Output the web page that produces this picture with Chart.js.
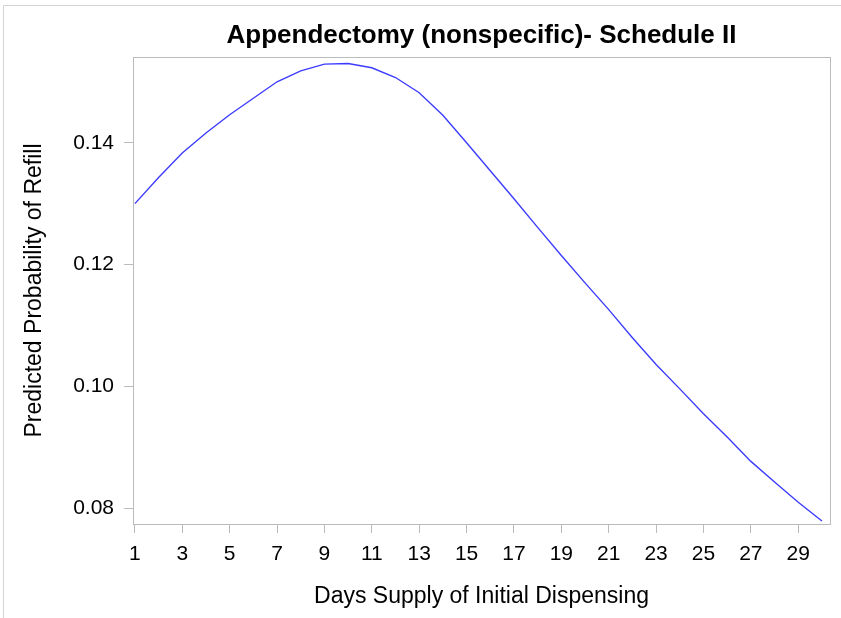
<!DOCTYPE html>
<html>
<head>
<meta charset="utf-8">
<script src="https://cdn.jsdelivr.net/npm/chart.js@4"></script>
<style>
  html, body { margin: 0; padding: 0; background: #fff; }
  #wrap { position: relative; width: 841px; height: 618px; }
  #frame { position: absolute; left: 3px; top: 5px; right: 0; bottom: 0;
           border-top: 1px solid #d4d4d4; border-left: 1px solid #d4d4d4; }
  canvas { position: absolute; left: 0; top: 0; }
</style>
</head>
<body>
<div id="wrap">
  <div id="frame"></div>
  <canvas id="refill" width="841" height="618"></canvas>
</div>
<script>
// data
const days = [1, 2, 3, 4, 5, 6, 7, 8, 9, 10, 11, 12, 13, 14, 15,
              16, 17, 18, 19, 20, 21, 22, 23, 24, 25, 26, 27, 28, 29, 30];
const probRefill = [0.1300, 0.1343, 0.1383, 0.1416, 0.1446, 0.1473, 0.1500, 0.1518, 0.1529, 0.1530,
                    0.1523, 0.1507, 0.1482, 0.1445, 0.1400, 0.1354, 0.1308, 0.1261, 0.1215, 0.1170,
                    0.1126, 0.1080, 0.1036, 0.0996, 0.0955, 0.0917, 0.0877, 0.0843, 0.0810, 0.0779];
const xTicks = [1, 3, 5, 7, 9, 11, 13, 15, 17, 19, 21, 23, 25, 27, 29];
const yTicks = [0.08, 0.10, 0.12, 0.14];
const chartTitle = 'Appendectomy (nonspecific)- Schedule II';

const axisGrey = '#b8bcbc';
const font = 'Liberation Sans, Arial, Helvetica, sans-serif';

// box round the plot area + title centred over it
const plotBox = {
    id: 'plotBox',
    afterDatasetsDraw(chart) {
        const a = chart.chartArea, c = chart.ctx;
        c.save();
        c.strokeStyle = axisGrey;
        c.lineWidth = 1;
        c.strokeRect(Math.round(a.left) + 0.5, Math.round(a.top) + 0.5,
                     Math.round(a.right - a.left), Math.round(a.bottom - a.top));
        c.fillStyle = '#000';
        c.font = 'bold 26px ' + font;
        c.textAlign = 'center';
        c.textBaseline = 'alphabetic';
        c.fillText(chartTitle, (a.left + a.right) / 2, 43);
        c.restore();
    }
};

new Chart(document.getElementById('refill'), {
    type: 'line',
    data: {
        datasets: [{
            data: days.map((d, i) => ({ x: d, y: probRefill[i] })),
            borderColor: '#3c3cff',
            borderWidth: 1.4,
            pointRadius: 0,
            tension: 0,
            fill: false
        }]
    },
    options: {
        responsive: false,
        animation: false,
        layout: { padding: { left: 0, right: 11, top: 57, bottom: 0 } },
        plugins: {
            legend: { display: false },
            tooltip: { enabled: false },
            title: { display: false }
        },
        scales: {
            x: {
                type: 'linear',
                min: 0.92,
                max: 30.34,
                afterBuildTicks: s => { s.ticks = xTicks.map(v => ({ value: v })); },
                afterFit: s => { s.height = 94; },
                grid: { drawOnChartArea: false, color: axisGrey, tickLength: 9 },
                border: { display: false },
                ticks: { color: '#000', font: { family: font, size: 21 }, padding: 9, autoSkip: false, maxRotation: 0 },
                title: {
                    display: true,
                    text: 'Days Supply of Initial Dispensing',
                    color: '#000',
                    font: { family: font, size: 23 },
                    padding: { top: 0, bottom: 8 }
                }
            },
            y: {
                min: 0.07742,
                max: 0.15407,
                afterBuildTicks: s => { s.ticks = yTicks.map(v => ({ value: v })); },
                afterFit: s => { s.width = 133; },
                grid: { drawOnChartArea: false, color: axisGrey, tickLength: 9 },
                border: { display: false },
                ticks: { color: '#000', font: { family: font, size: 21 }, padding: 10,
                         callback: v => v.toFixed(2) },
                title: {
                    display: true,
                    text: 'Predicted Probability of Refill',
                    color: '#000',
                    font: { family: font, size: 23 },
                    padding: { top: 21, bottom: 0 }
                }
            }
        }
    },
    plugins: [plotBox]
});
</script>
</body>
</html>
